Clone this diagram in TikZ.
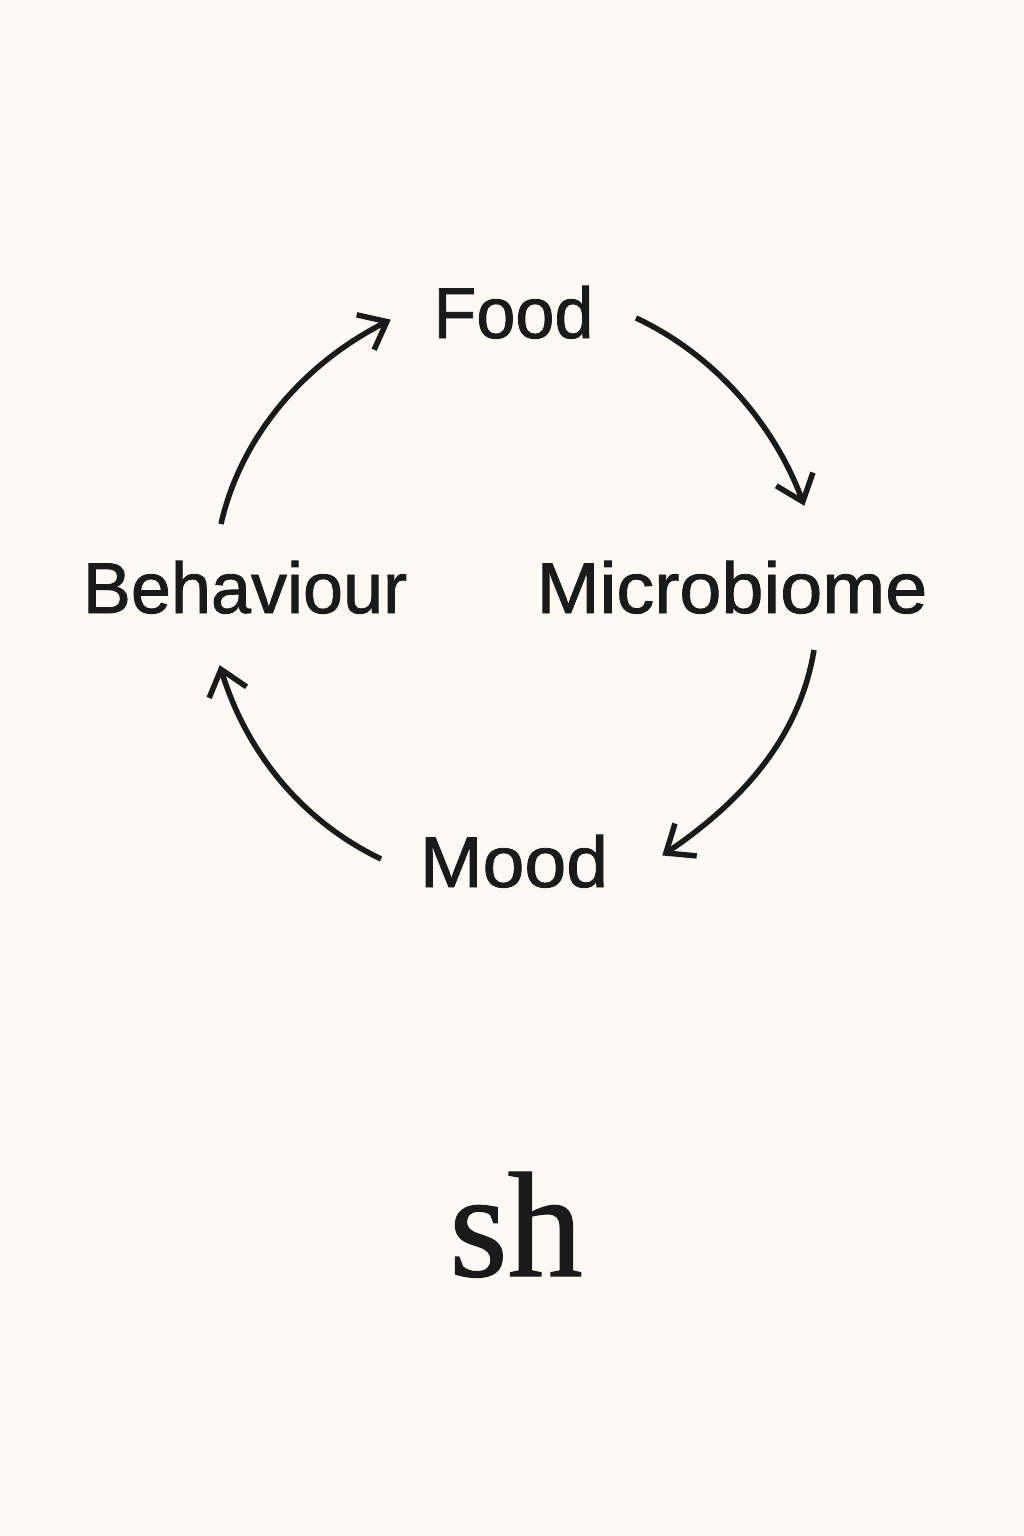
\documentclass[tikz,border=0pt]{standalone}
\usepackage{fontspec}
\setmainfont[RawFeature={embolden=1.2}]{Liberation Sans}
\newfontfamily\logoface[RawFeature={embolden=0.9}]{Liberation Serif}
\usetikzlibrary{arrows.meta}
\definecolor{paper}{HTML}{FEF9F4}
\definecolor{ink}{HTML}{1A1A1A}
\pgfdeclarearrow{
  name=VBarb,
  setup code={\pgfarrowssettipend{3.5pt}\pgfarrowssetlineend{0pt}},
  drawing code={\pgfsetdash{}{0pt}\pgfsetbuttcap\pgfsetmiterjoin
    \pgfpathmoveto{\pgfqpoint{-24pt}{19.5pt}}\pgfpathlineto{\pgfpointorigin}\pgfpathlineto{\pgfqpoint{-24pt}{-19.5pt}}\pgfusepathqstroke}
}
\tikzset{
  label text/.style={text=ink,inner sep=0pt,anchor=base,font=\fontsize{72}{72}\selectfont},
  cycle arrow/.style={draw=ink,line width=5.5pt,line cap=butt,-VBarb}
}
\begin{document}
\begin{tikzpicture}[x=1pt,y=-1pt]
\fill[paper] (0,0) rectangle (1024,1536);
\useasboundingbox (0,0) rectangle (1024,1536);
\node[label text,xscale=.975] (food) at (513.5,338) {Food};
\node[label text,xscale=1.05] (micro) at (732,613) {Microbiome};
\node[label text,xscale=1.045] (mood) at (514,887) {Mood};
\node[label text] (behav) at (245,613) {Behaviour};
\node[text=ink,inner sep=0pt,anchor=base,font=\logoface\fontsize{150}{150}\selectfont] (logo) at (516,1276) {sh};
\coordinate (a1) at (636,318); \coordinate (a2) at (804,505);
\coordinate (b1) at (814,650); \coordinate (b2) at (663,855);
\coordinate (c1) at (381,859); \coordinate (c2) at (220,666);
\coordinate (d1) at (221,524); \coordinate (d2) at (390,320);
\draw[cycle arrow] (a1) .. controls (715,355) and (775,425) .. (a2);
\draw[cycle arrow] (b1) .. controls (800,735) and (745,800) .. (b2);
\draw[cycle arrow] (c1) .. controls (300,820) and (245,750) .. (c2);
\draw[cycle arrow] (d1) .. controls (240,440) and (300,365) .. (d2);
\end{tikzpicture}
\end{document}
